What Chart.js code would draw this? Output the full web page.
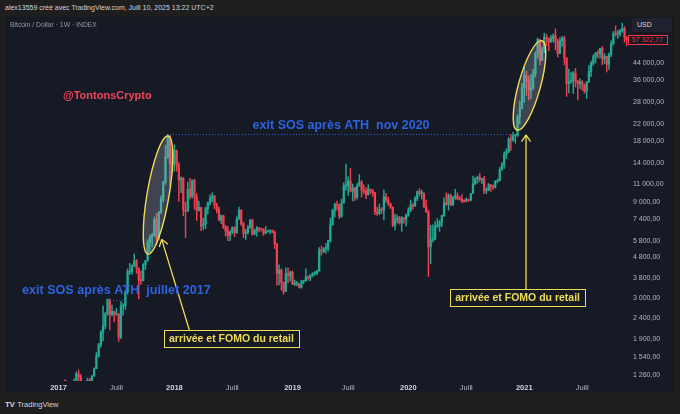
<!DOCTYPE html>
<html>
<head>
<meta charset="utf-8">
<script src="https://cdn.jsdelivr.net/npm/chart.js@4.4.0/dist/chart.umd.min.js"></script>
<style>
  html, body { margin: 0; padding: 0; }
  body {
    width: 680px; height: 414px; position: relative; overflow: hidden;
    background: #1e1e1f; font-family: "Liberation Sans", Arial, sans-serif;
  }
  #header { position: absolute; left: 5px; top: 4px; font-size: 7px; color: #d1d4dc; white-space: nowrap; }
  #pane { position: absolute; left: 6px; top: 17px; width: 668px; height: 376px; background: #161a25; }
  #chart { position: absolute; left: 0; top: 0; }
  #legend { position: absolute; left: 4px; top: 4px; font-size: 6.8px; color: #9598a1; white-space: nowrap; }
  #usd {
    position: absolute; left: 626px; top: 1px; width: 40px; height: 14px; border-radius: 2px;
    background: #1f2330; color: #d1d4dc; font-size: 7px; line-height: 14px; text-indent: 5px;
  }
  #footer { position: absolute; left: 5px; top: 400px; font-size: 7.5px; color: #d1d4dc; white-space: nowrap; }
  #footer b { font-size: 8px; letter-spacing: -0.5px; margin-right: 3px; }
</style>
</head>
<body>
<div id="header">alex13559 créé avec TradingView.com, Juill 10, 2025 13:22 UTC+2</div>
<div id="pane">
  <canvas id="chart" width="668" height="376"></canvas>
  <div id="legend">Bitcoin / Dollar · 1W · INDEX</div>
  <div id="usd">USD</div>
</div>
<div id="footer"><b>TV</b>TradingView</div>
<script>
// --- DONNÉES : bougies hebdo BTC/USD, semaine 0 = lundi 2 janvier 2017 ---
const firstOpen = 998;

const closes = [
  // 2017
  908, 820, 920, 915, 1010, 995, 1050, 1160, 1270, 1230,
  1020, 960, 1090, 1180, 1175, 1240, 1350, 1550, 1770, 2040,
  2200, 2520, 2960, 2500, 2590, 2500, 2510, 1930, 2750, 2760,
  3230, 4070, 4090, 4350, 4600, 4230, 3700, 3680, 4400, 4610,
  5690, 6010, 6150, 7400, 5950, 8000, 9300, 11250, 15000, 19100,
  13900, 14000,
  // 2018
  16200, 13600, 11600, 11800, 8200, 8100, 10400, 9600, 11500, 9550,
  8200, 8450, 6850, 7030, 8350, 8900, 9400, 9650, 8700, 8230,
  7350, 7700, 6780, 6450, 6150, 6380, 6740, 6350, 7400, 8200,
  7030, 6300, 6400, 6700, 7300, 6250, 6500, 6700, 6620, 6600,
  6300, 6420, 6480, 6480, 6370, 5600, 4000, 4150, 3600, 3250,
  3980, 3900,
  // 2019
  4050, 3530, 3540, 3550, 3410, 3650, 3670, 3830, 3800, 3920,
  4000, 4000, 4100, 5200, 5150, 5300, 5300, 5800, 6950, 8200,
  8750, 8700, 7650, 8900, 10800, 10800, 11450, 10200, 10600, 9500,
  10800, 11300, 10300, 10150, 9760, 10400, 10300, 10000, 8050, 7880,
  8300, 8220, 9550, 9200, 8800, 8500, 6900, 7400, 7500, 7100,
  7500, 7400,
  // 2020
  7750, 8180, 8700, 8600, 9350, 10150, 9900, 9950, 8550, 8050,
  5400, 5850, 5900, 6780, 6900, 7150, 7700, 8900, 8750, 9700,
  8700, 9450, 9670, 9350, 9300, 9100, 9080, 9250, 9200, 9930,
  11050, 11700, 11900, 11650, 11700, 10250, 10330, 10950, 10780, 10670,
  11380, 11500, 13050, 13750, 15500, 15950, 18400, 18200, 19150, 19250,
  23850, 26300, 33000,
  // 2021
  38200, 35800, 32300, 33100, 38900, 48600, 57500, 45200, 51200, 59000,
  57500, 55800, 58200, 59800, 56200, 49000, 56600, 58200, 46400, 34700,
  35600, 35800, 39100, 35500, 34700, 35300, 34200, 31800, 35400, 39900,
  43800, 47100, 49300, 48800, 51800, 46000, 47300, 43200, 48200, 54700,
  61500, 61000, 61300, 63300, 65000, 58600, 57322.77
];

const highs = [
  // 2017
  1160, 920, 935, 925, 1030, 1065, 1060, 1200, 1300, 1330,
  1260, 1070, 1100, 1210, 1210, 1250, 1360, 1620, 1800, 2080,
  2760, 2560, 2980, 2980, 2780, 2600, 2680, 2530, 2900, 2830,
  3280, 4200, 4480, 4400, 4980, 4680, 4250, 4110, 4470, 4620,
  5860, 6190, 6300, 7600, 7900, 8100, 9650, 11400, 17200, 19450,
  19200, 16500,
  // 2018
  17250, 16300, 14100, 12000, 11900, 9000, 11300, 11800, 11600, 11700,
  9900, 9100, 8500, 7500, 8500, 9000, 9760, 9990, 9700, 8880,
  8500, 7750, 7750, 6900, 6800, 6500, 6800, 6800, 7600, 8500,
  8240, 7150, 6600, 6900, 7400, 7410, 6600, 6800, 6750, 6660,
  6650, 6800, 6520, 6500, 6560, 6480, 5620, 4400, 4200, 3610,
  4250, 4250,
  // 2019
  4100, 4110, 3700, 3650, 3560, 3700, 3680, 4200, 3880, 3930,
  4020, 4080, 4150, 5350, 5450, 5360, 5600, 5840, 7500, 8300,
  8900, 9090, 8800, 9300, 11200, 13880, 12000, 13200, 11050, 10650,
  11100, 12300, 11500, 10950, 10600, 10950, 10450, 10350, 10050, 8500,
  8800, 8450, 10350, 9950, 9500, 8900, 8500, 7850, 7750, 7650,
  7650, 7550,
  // 2020
  7850, 8450, 9200, 8900, 9580, 10200, 10500, 10300, 10000, 9200,
  8200, 6900, 6950, 7200, 7450, 7300, 7750, 9450, 10000, 9900,
  9850, 9600, 10400, 10000, 9600, 9800, 9250, 9450, 9300, 9950,
  12100, 11900, 12100, 12450, 11800, 12050, 10600, 11100, 10950, 10950,
  11500, 11700, 13350, 14100, 15950, 16500, 18800, 19400, 19900, 19450,
  24300, 28400, 34800,
  // 2021
  41900, 40100, 37900, 38500, 40900, 49700, 58300, 57500, 52600, 61700,
  60800, 58600, 60100, 61200, 64800, 57500, 58500, 59500, 59600, 46600,
  40900, 39500, 39800, 41300, 36000, 36600, 35900, 34600, 35400, 42600,
  44800, 48100, 49300, 50500, 51800, 52900, 48800, 47400, 49200, 56500,
  62900, 67000, 63700, 64300, 69000, 66300, 59300
];

const lows = [
  // 2017
  880, 755, 820, 880, 915, 940, 990, 1040, 1150, 1000,
  960, 890, 930, 1080, 1150, 1170, 1240, 1350, 1540, 1720,
  1850, 2120, 2470, 2100, 2450, 2300, 2470, 1840, 1900, 2480,
  2650, 3150, 3950, 3960, 4320, 4000, 2980, 3520, 3660, 4170,
  4580, 5110, 5400, 6100, 5550, 5850, 7900, 9000, 11000, 14800,
  10800, 12500,
  // 2018
  12800, 12800, 9100, 10000, 7700, 6000, 8100, 9300, 9400, 8300,
  7300, 8100, 6500, 6580, 6650, 7850, 8700, 9000, 8350, 7950,
  7260, 7050, 6650, 6100, 5800, 5800, 6270, 6070, 6300, 7400,
  6900, 6000, 5880, 6250, 6700, 6150, 6200, 6100, 6400, 6470,
  6150, 6300, 6380, 6260, 6340, 5300, 3480, 3500, 3300, 3150,
  3240, 3580,
  // 2019
  3650, 3520, 3470, 3460, 3380, 3370, 3550, 3650, 3700, 3670,
  3830, 3900, 3930, 4100, 4920, 5050, 5030, 5150, 5700, 6900,
  7600, 8200, 7450, 7550, 8900, 10300, 9700, 10100, 9100, 9150,
  9300, 10800, 9500, 9900, 9350, 9750, 9900, 9600, 7800, 7730,
  7800, 7900, 7350, 8950, 8650, 8350, 6800, 6550, 7100, 7000,
  6450, 7050,
  // 2020
  6850, 7650, 8050, 8300, 8550, 9150, 9650, 9300, 8450, 8000,
  3850, 4450, 5700, 5850, 6750, 6450, 6800, 7650, 8650, 8200,
  8650, 8650, 9270, 9250, 9200, 8900, 8950, 9050, 9050, 9150,
  9900, 11000, 11150, 11350, 11100, 9900, 9880, 10250, 10150, 10400,
  10550, 11200, 11400, 12900, 13200, 14800, 15800, 16200, 18000, 17600,
  19000, 21900, 26000,
  // 2021
  28000, 30300, 28800, 29200, 32300, 37400, 46300, 43000, 45000, 49300,
  53300, 50400, 55500, 55500, 51000, 47000, 48800, 53000, 43000, 30000,
  31200, 34800, 31000, 33300, 28800, 32700, 32100, 31100, 29300, 35200,
  37500, 42800, 43900, 46300, 46500, 43000, 43400, 39600, 40800, 47100,
  53900, 59500, 58000, 59500, 62300, 55600, 53500
];

// axe du temps : semaine où tombe chaque repère
const xTickWeeks = [0, 26, 52, 78, 105, 130, 157, 183, 209, 235];
const xTickLabels = ['2017', 'Juill', '2018', 'Juill', '2019', 'Juill', '2020', 'Juill', '2021', 'Juill'];

// axe des prix (log)
const yTickValues = [1260, 1540, 1900, 2400, 3000, 3800, 4800, 5800, 7400, 9000,
                     11000, 14000, 18000, 22000, 28000, 36000, 44000];
const lastPrice = 57322.77;

// --- DESSINS (ancrés en semaine / prix) ---
const textNotes = [
  { text: '@TontonsCrypto', week: 2.0, price: 30050, align: 'left', color: '#f0455a', size: 11 },
  { text: 'exit SOS après ATH  nov 2020', week: 126.8, price: 21630, align: 'center', color: '#2d62e0', size: 12.5 },
  { text: 'exit SOS après ATH  juillet 2017', week: -16.4, price: 3270, align: 'left', color: '#2d62e0', size: 12.6 }
];
const dottedLines = [
  { from: 50, to: 203.5, price: 19450 },
  { from: 21.8, to: 28.9, price: 2960 }
];
const ellipses = [
  { w1: 40.17, p1: 4976, w2: 49.15, p2: 19090, half: 11 },
  { w1: 205.8, p1: 20430, w2: 216.9, p2: 56530, half: 11 }
];
const arrows = [
  { w1: 58.7, p1: 2096, w2: 46.3, p2: 5885 },
  { w1: 209.8, p1: 3343, w2: 209.8, p2: 19320 }
];
const boxes = [
  { text: 'arrivée et FOMO du retail', week: 77.6, price: 1903 },
  { text: 'arrivée et FOMO du retail', week: 206.0, price: 3017 }
];

const GREEN = '#22ab94';
const RED = '#f23f50';
const YELLOW = '#efdb55';
const FONT = '"Liberation Sans", Arial, sans-serif';

const weeks = closes.map((c, i) => i);
const opens = closes.map((c, i) => (i === 0 ? firstOpen : closes[i - 1]));
const candleColors = closes.map((c, i) => (c >= opens[i] ? GREEN : RED));

function fmtPrice(v) {
  const [ent, dec] = Number(v).toFixed(2).split('.');
  return ent.replace(/\B(?=(\d{3})+(?!\d))/g, ' ') + ',' + dec;
}

const drawingsPlugin = {
  id: 'drawings',
  afterDatasetsDraw(chart) {
    const { ctx, scales: { x, y } } = chart;
    const px = (w, p) => [x.getPixelForValue(w), y.getPixelForValue(p)];
    ctx.save();

    // ellipses
    ellipses.forEach(e => {
      const [x1, y1] = px(e.w1, e.p1);
      const [x2, y2] = px(e.w2, e.p2);
      const cx = (x1 + x2) / 2, cy = (y1 + y2) / 2;
      const len = Math.hypot(x2 - x1, y2 - y1) / 2;
      const ang = Math.atan2(y2 - y1, x2 - x1);
      ctx.beginPath();
      ctx.ellipse(cx, cy, len, e.half, ang, 0, Math.PI * 2);
      ctx.fillStyle = 'rgba(178,181,195,0.27)';
      ctx.fill();
      ctx.lineWidth = 1.4;
      ctx.strokeStyle = YELLOW;
      ctx.stroke();
    });

    // lignes pointillées
    ctx.setLineDash([1, 2]);
    ctx.lineWidth = 1;
    ctx.strokeStyle = '#2d62e0';
    dottedLines.forEach(l => {
      const [xa, ya] = px(l.from, l.price);
      const [xb] = px(l.to, l.price);
      const yy = Math.round(ya) + 0.5;
      ctx.beginPath();
      ctx.moveTo(xa, yy);
      ctx.lineTo(xb, yy);
      ctx.stroke();
    });
    ctx.setLineDash([]);

    // flèches
    ctx.strokeStyle = YELLOW;
    ctx.lineWidth = 1.3;
    arrows.forEach(a => {
      const [xa, ya] = px(a.w1, a.p1);
      const [xb, yb] = px(a.w2, a.p2);
      const ang = Math.atan2(yb - ya, xb - xa);
      ctx.beginPath();
      ctx.moveTo(xa, ya);
      ctx.lineTo(xb, yb);
      [-0.6, 0.6].forEach(d => {
        ctx.moveTo(xb, yb);
        ctx.lineTo(xb - 8 * Math.cos(ang + d), yb - 8 * Math.sin(ang + d));
      });
      ctx.stroke();
    });

    // textes
    ctx.textBaseline = 'middle';
    textNotes.forEach(t => {
      const [tx, ty] = px(t.week, t.price);
      ctx.font = 'bold ' + t.size + 'px ' + FONT;
      ctx.textAlign = t.align;
      ctx.fillStyle = t.color;
      ctx.fillText(t.text, tx, ty);
    });

    // étiquettes encadrées
    ctx.font = 'bold 10.5px ' + FONT;
    ctx.textAlign = 'center';
    boxes.forEach(b => {
      const [bx, by] = px(b.week, b.price);
      const w = ctx.measureText(b.text).width + 10;
      const h = 17;
      ctx.fillStyle = '#161a25';
      ctx.fillRect(bx - w / 2, by - h / 2, w, h);
      ctx.strokeStyle = YELLOW;
      ctx.lineWidth = 1;
      ctx.strokeRect(Math.round(bx - w / 2) + 0.5, Math.round(by - h / 2) + 0.5, Math.round(w), h);
      ctx.fillStyle = YELLOW;
      ctx.fillText(b.text, bx, by + 0.5);
    });
    ctx.restore();
  },
  afterDraw(chart) {
    const { ctx, chartArea, scales: { y } } = chart;
    const ly = y.getPixelForValue(lastPrice);
    ctx.save();
    ctx.fillStyle = '#161a25';
    ctx.fillRect(chartArea.right - 3, ly - 4.5, 39, 9);
    ctx.strokeStyle = '#f23645';
    ctx.lineWidth = 1;
    ctx.strokeRect(Math.round(chartArea.right - 3) + 0.5, Math.round(ly - 4.5) + 0.5, 39, 9);
    ctx.fillStyle = '#f23645';
    ctx.font = '7px ' + FONT;
    ctx.textAlign = 'left';
    ctx.textBaseline = 'middle';
    ctx.fillText(fmtPrice(lastPrice), chartArea.right + 1, ly + 1);
    ctx.restore();
  }
};

new Chart(document.getElementById('chart'), {
  type: 'bar',
  data: {
    datasets: [
      {
        label: 'mèches',
        data: weeks.map(i => ({ x: i, y: [lows[i], highs[i]] })),
        backgroundColor: candleColors,
        barThickness: 0.8,
        grouped: false,
        order: 2
      },
      {
        label: 'corps',
        data: weeks.map(i => ({ x: i, y: [opens[i], closes[i]] })),
        backgroundColor: candleColors,
        barThickness: 1.6,
        minBarLength: 1,
        grouped: false,
        order: 1
      }
    ]
  },
  options: {
    responsive: false,
    animation: false,
    layout: { padding: 0 },
    plugins: { legend: { display: false }, tooltip: { enabled: false } },
    scales: {
      x: {
        type: 'linear',
        offset: false,
        min: -23.56,
        max: 256.9,
        grid: { display: false, drawTicks: false, tickLength: 0 },
        border: { display: false },
        afterBuildTicks: s => { s.ticks = xTickWeeks.map(v => ({ value: v })); },
        afterFit: s => { s.height = 12; s.paddingLeft = 0; s.paddingRight = 0; },
        ticks: {
          autoSkip: false,
          maxRotation: 0,
          padding: 2,
          callback: (v, i) => xTickLabels[i],
          color: ctx => (/^\d{4}$/.test(xTickLabels[ctx.index]) ? '#d1d4dc' : '#b2b5be'),
          font: ctx => ({ family: FONT, size: 7.5, weight: /^\d{4}$/.test(xTickLabels[ctx.index]) ? 'bold' : 'normal' })
        }
      },
      y: {
        type: 'logarithmic',
        position: 'right',
        min: 1172,
        max: 74070,
        grid: { display: false, drawTicks: false, tickLength: 0 },
        border: { display: false },
        afterBuildTicks: s => { s.ticks = yTickValues.map(v => ({ value: v })); },
        afterFit: s => { s.width = 43; s.paddingTop = 0; s.paddingBottom = 0; },
        ticks: {
          padding: 2,
          crossAlign: 'near',
          color: '#b2b5be',
          font: { family: FONT, size: 7 },
          callback: v => fmtPrice(v)
        }
      }
    }
  },
  plugins: [drawingsPlugin]
});
</script>
</body>
</html>
